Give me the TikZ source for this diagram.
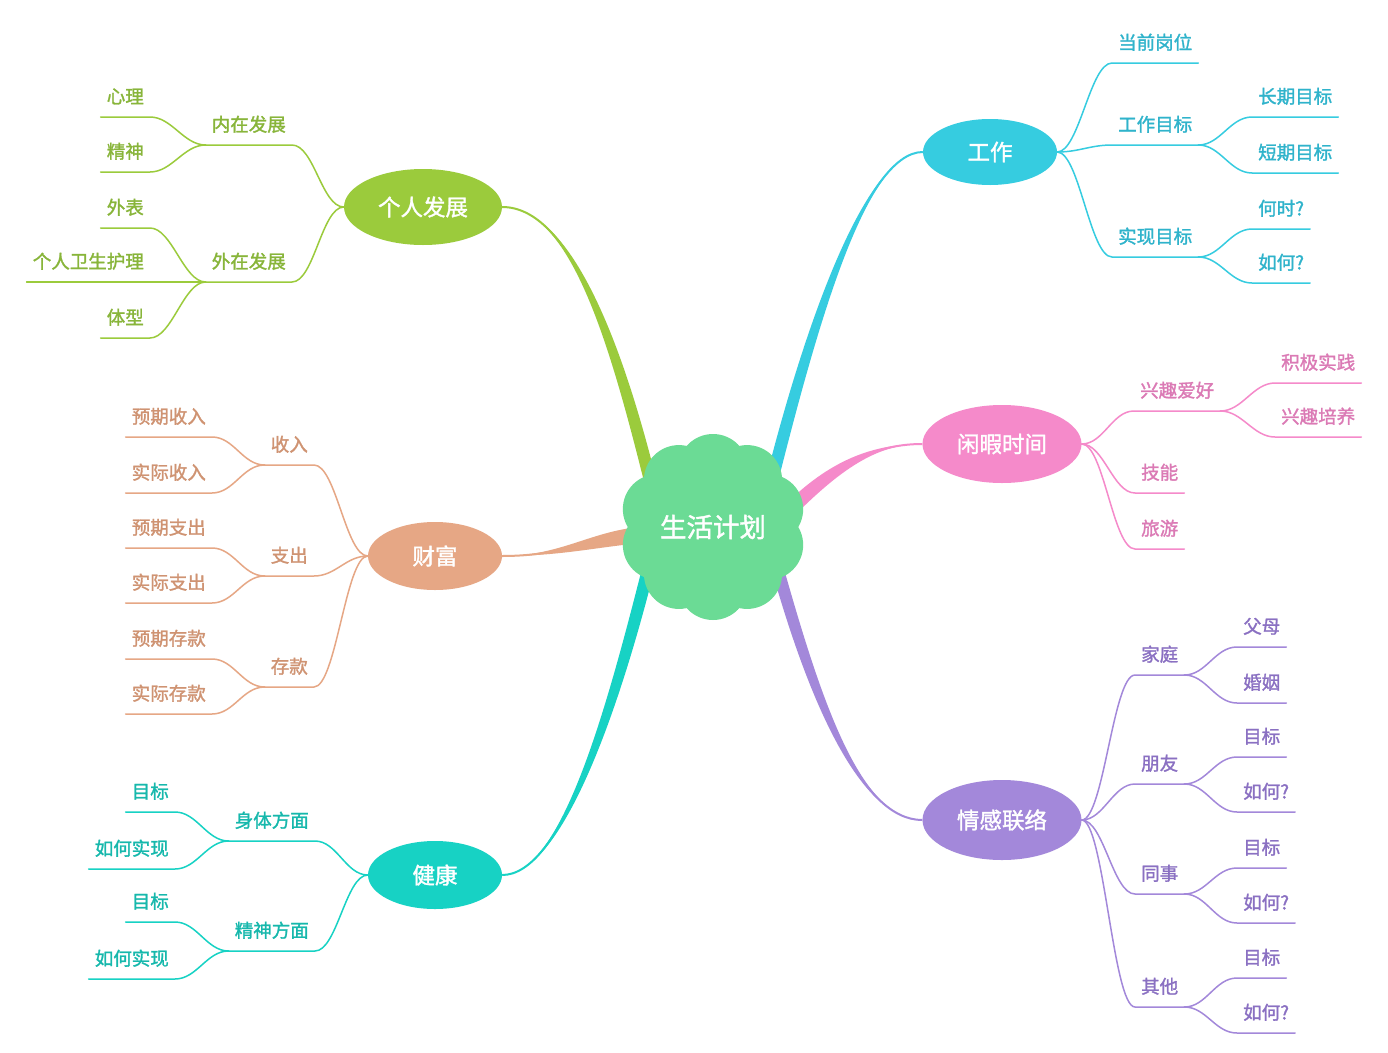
\documentclass[tikz,border=0pt]{standalone}
\usepackage{fontspec}
\setmainfont{Noto Sans CJK SC}[RawFeature={embolden=1.5}]
\usetikzlibrary{shapes.geometric,calc}
\definecolor{cG}{HTML}{9BCB3C}\definecolor{cGt}{HTML}{88B53A}
\definecolor{cC}{HTML}{36CCE0}\definecolor{cCt}{HTML}{2FB3CB}
\definecolor{cP}{HTML}{F58ACA}\definecolor{cPt}{HTML}{DB7AB5}
\definecolor{cT}{HTML}{E6A785}\definecolor{cTt}{HTML}{CF9372}
\definecolor{cQ}{HTML}{17D2C4}\definecolor{cQt}{HTML}{16B8AC}
\definecolor{cV}{HTML}{A388DA}\definecolor{cVt}{HTML}{8A70C2}
\definecolor{cCenter}{HTML}{6BDB95}
\tikzset{
  mainnode/.style={ellipse, inner sep=0pt, text=white, font=\fontsize{22.5}{24}\selectfont},
  lblR/.style={anchor=south west, inner xsep=6pt, inner ysep=0pt, text height=14pt, text depth=13.5pt, font=\fontsize{18.5}{20}\selectfont},
  lblL/.style={lblR, anchor=south east},
  subline/.style={line width=1.5pt, line cap=round}
}
\newcommand\subR[6]{%
  \node[lblR, text=#4t] (#1) at (#2,#3) {#5};
  \draw[subline, #4] (#6) .. controls +(22,0) and +(-22,0) .. (#1.south west) -- (#1.south east);}
\newcommand\subL[6]{%
  \node[lblL, text=#4t] (#1) at (#2,#3) {#5};
  \draw[subline, #4] (#6) .. controls +(-22,0) and +(22,0) .. (#1.south east) -- (#1.south west);}
\newcommand\taper[6]{%
  \fill[#1] (#2) .. controls (#3) and ($(#4)+(#6)$) .. ($(#5)+(#6)$) -- ($(#5)-(#6)$) .. controls ($(#4)-(#6)$) and (#3) .. (#2) -- cycle;
  \draw[#1, line width=2pt] (#2) .. controls (#3) and (#4) .. (#5);}
\begin{document}
\begin{tikzpicture}[x=1pt,y=-1pt]
\fill[white] (0,0) rectangle (1388,1052);
\useasboundingbox (0,0) rectangle (1388,1052);
% main topic ellipses
\node[mainnode, fill=cG, minimum width=158pt, minimum height=76pt] (pd) at (423,207) {个人发展};
\node[mainnode, fill=cC, minimum width=134pt, minimum height=66pt] (gz) at (990,152) {工作};
\node[mainnode, fill=cP, minimum width=159pt, minimum height=78pt] (xx) at (1002,444) {闲暇时间};
\node[mainnode, fill=cT, minimum width=134pt, minimum height=68pt] (cf) at (435,556) {财富};
\node[mainnode, fill=cQ, minimum width=134pt, minimum height=68pt] (jk) at (435,875) {健康};
\node[mainnode, fill=cV, minimum width=159pt, minimum height=80pt] (qg) at (1002,820) {情感联络};
% centre
\coordinate (cc) at (713,527);
\coordinate (eG) at (650,480);
\coordinate (eC) at (772,480);
\coordinate (eP) at (790,510);
\coordinate (eT) at (640,535);
\coordinate (eQ) at (648,570);
\coordinate (eV) at (778,570);
\taper{cG}{pd.east}{570,207}{615,340}{eG}{6,-1.5}
\taper{cC}{gz.west}{865,152}{810,330}{eC}{6,1.5}
\taper{cP}{xx.west}{880,444}{840,460}{eP}{5,5}
\taper{cT}{cf.east}{560,556}{590,540}{eT}{0.8,8}
\taper{cQ}{jk.east}{560,875}{610,720}{eQ}{6,1.5}
\taper{cV}{qg.west}{860,820}{815,700}{eV}{5.8,-1.6}
\fill[cCenter] (cc) circle[radius=70];
\foreach \a in {90,126,...,414} \fill[cCenter] (cc) ++(\a:58) circle[radius=35];
\node[text=white, font=\fontsize{26.5}{28}\selectfont] (core) at (cc) {生活计划};
% 个人发展
\subL{nz}{292}{145}{cG}{内在发展}{pd.west}
\subL{wz}{292}{282}{cG}{外在发展}{pd.west}
\subL{xl}{150}{117}{cG}{心理}{nz.south west}
\subL{js}{150}{172}{cG}{精神}{nz.south west}
\subL{wb}{150}{228}{cG}{外表}{wz.south west}
\subL{gr}{150}{282}{cG}{个人卫生护理}{wz.south west}
\subL{tx}{150}{338}{cG}{体型}{wz.south west}
% 工作
\subR{dq}{1112}{63}{cC}{当前岗位}{gz.east}
\subR{gm}{1112}{145}{cC}{工作目标}{gz.east}
\subR{sx}{1112}{257}{cC}{实现目标}{gz.east}
\subR{cq}{1252}{117}{cC}{长期目标}{gm.south east}
\subR{dqm}{1252}{173}{cC}{短期目标}{gm.south east}
\subR{hs}{1252}{229}{cC}{何时?}{sx.south east}
\subR{rh}{1252}{283}{cC}{如何?}{sx.south east}
% 闲暇时间
\subR{xq}{1134}{411}{cP}{兴趣爱好}{xx.east}
\subR{jj}{1275}{383}{cP}{积极实践}{xq.south east}
\subR{py}{1275}{437}{cP}{兴趣培养}{xq.south east}
\subR{jn}{1135}{493}{cP}{技能}{xx.east}
\subR{ly}{1135}{549}{cP}{旅游}{xx.east}
% 情感联络
\subR{jt}{1135}{675}{cV}{家庭}{qg.east}
\subR{py2}{1135}{784}{cV}{朋友}{qg.east}
\subR{ts}{1135}{894}{cV}{同事}{qg.east}
\subR{qt}{1135}{1007}{cV}{其他}{qg.east}
\subR{fm}{1237}{647}{cV}{父母}{jt.south east}
\subR{hy}{1237}{703}{cV}{婚姻}{jt.south east}
\subR{mb1}{1237}{757}{cV}{目标}{py2.south east}
\subR{rh1}{1237}{812}{cV}{如何?}{py2.south east}
\subR{mb2}{1237}{868}{cV}{目标}{ts.south east}
\subR{rh2}{1237}{923}{cV}{如何?}{ts.south east}
\subR{mb3}{1237}{978}{cV}{目标}{qt.south east}
\subR{rh3}{1237}{1033}{cV}{如何?}{qt.south east}
% 财富
\subL{sr}{314}{465}{cT}{收入}{cf.west}
\subL{zc}{314}{576}{cT}{支出}{cf.west}
\subL{ck}{314}{687}{cT}{存款}{cf.west}
\subL{yqsr}{212}{437}{cT}{预期收入}{sr.south west}
\subL{sjsr}{212}{493}{cT}{实际收入}{sr.south west}
\subL{yqzc}{212}{548}{cT}{预期支出}{zc.south west}
\subL{sjzc}{212}{603}{cT}{实际支出}{zc.south west}
\subL{yqck}{212}{659}{cT}{预期存款}{ck.south west}
\subL{sjck}{212}{714}{cT}{实际存款}{ck.south west}
% 健康
\subL{st}{315}{841}{cQ}{身体方面}{jk.west}
\subL{jsf}{315}{951}{cQ}{精神方面}{jk.west}
\subL{mbA}{175}{812}{cQ}{目标}{st.south west}
\subL{shA}{175}{869}{cQ}{如何实现}{st.south west}
\subL{mbB}{175}{922}{cQ}{目标}{jsf.south west}
\subL{shB}{175}{979}{cQ}{如何实现}{jsf.south west}
\end{tikzpicture}
\end{document}
